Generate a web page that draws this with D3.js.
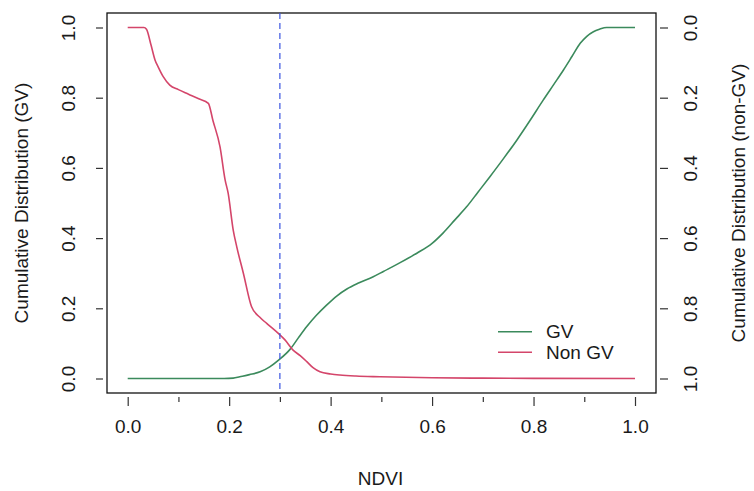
<!DOCTYPE html>
<html>
<head>
<meta charset="utf-8">
<script src="https://cdn.jsdelivr.net/npm/d3@7"></script>
<style>
  html, body { margin: 0; padding: 0; background: #fff; }
  svg { display: block; font-family: "Liberation Sans", Arial, sans-serif; }
</style>
</head>
<body>
<svg id="chart" width="754" height="491"></svg>
<script>
// ---- data ----
const xTicks = [0, 0.2, 0.4, 0.6, 0.8, 1.0];
const xMinorTicks = [0.1, 0.3, 0.5, 0.7, 0.9];
const yTicks = [0, 0.2, 0.4, 0.6, 0.8, 1.0];
const cutoff = 0.3;

const ndviGV = [0, 0.19, 0.208, 0.221, 0.24, 0.261, 0.28, 0.298, 0.32, 0.336, 0.353, 0.372, 0.392, 0.412, 0.432, 0.455, 0.484, 0.504, 0.537, 0.570, 0.60, 0.622, 0.645, 0.668, 0.690, 0.714, 0.74, 0.767, 0.793, 0.819, 0.84, 0.859, 0.876, 0.892, 0.905, 0.918, 0.93, 0.944, 1.0];
const gvCDF  = [0, 0, 0.001, 0.005, 0.011, 0.019, 0.033, 0.053, 0.083, 0.115, 0.148, 0.18, 0.209, 0.235, 0.255, 0.272, 0.290, 0.305, 0.330, 0.357, 0.385, 0.415, 0.452, 0.489, 0.530, 0.575, 0.625, 0.679, 0.735, 0.793, 0.838, 0.879, 0.918, 0.955, 0.975, 0.988, 0.995, 1.0, 1.0];

const ndviNonGV = [0, 0.032, 0.037, 0.046, 0.054, 0.060, 0.070, 0.083, 0.10, 0.12, 0.14, 0.159, 0.168, 0.182, 0.192, 0.198, 0.208, 0.215, 0.228, 0.244, 0.26, 0.274, 0.298, 0.31, 0.326, 0.34, 0.353, 0.366, 0.379, 0.40, 0.418, 0.45, 0.497, 0.6, 0.7, 0.8, 1.0];
const nonGVCDF  = [0, 0, 0.005, 0.05, 0.093, 0.112, 0.14, 0.164, 0.177, 0.19, 0.203, 0.216, 0.265, 0.34, 0.434, 0.472, 0.577, 0.625, 0.70, 0.795, 0.825, 0.843, 0.873, 0.89, 0.919, 0.935, 0.952, 0.97, 0.981, 0.987, 0.99, 0.993, 0.995, 0.998, 0.999, 0.9995, 1.0];

const legendLabels = ["GV", "Non GV"];
const colors = ["#3b8a5c", "#d4456a"];

// ---- layout ----
const svg = d3.select("#chart");
const box = { left: 107, right: 656, top: 13, bottom: 393 };
const x = d3.scaleLinear().domain([0, 1]).range([127.7, 635]);
const yL = d3.scaleLinear().domain([0, 1]).range([378.5, 27.5]);
const yR = d3.scaleLinear().domain([0, 1]).range([27.5, 378.5]);
const fontSize = 19;
const textCol = "#1a1a1a";

// plot box
svg.append("rect")
  .attr("x", box.left).attr("y", box.top)
  .attr("width", box.right - box.left).attr("height", box.bottom - box.top)
  .attr("fill", "none").attr("stroke", "#111").attr("stroke-width", 1.3);

// x axis major
const gx = svg.append("g").attr("transform", `translate(0,${box.bottom + 4})`)
  .call(d3.axisBottom(x).tickValues(xTicks).tickFormat(d3.format(".1f")).tickSize(9).tickPadding(14));
gx.select(".domain").remove();
// x axis minor
const gxm = svg.append("g").attr("transform", `translate(0,${box.bottom + 4})`)
  .call(d3.axisBottom(x).tickValues(xMinorTicks).tickFormat("").tickSize(5));
gxm.select(".domain").remove();

// left axis
const gy = svg.append("g").attr("transform", `translate(${box.left - 4},0)`)
  .call(d3.axisLeft(yL).tickValues(yTicks).tickFormat(d3.format(".1f")).tickSize(7).tickPadding(12));
gy.select(".domain").remove();

// right axis
const gr = svg.append("g").attr("transform", `translate(${box.right + 4},0)`)
  .call(d3.axisRight(yR).tickValues(yTicks).tickFormat(d3.format(".1f")).tickSize(8).tickPadding(12));
gr.select(".domain").remove();

svg.selectAll(".tick line").attr("stroke", "#333").attr("stroke-width", 1.2);
svg.selectAll(".tick text").attr("font-size", fontSize).attr("fill", textCol)
  .attr("font-family", "'Liberation Sans', Arial, sans-serif");

// rotate y tick labels (R style, las=0)
gy.selectAll(".tick text").each(function(d) {
  const t = d3.select(this);
  t.attr("x", null).attr("dy", null)
   .attr("text-anchor", "middle")
   .attr("dominant-baseline", "central")
   .attr("transform", `translate(-35,0) rotate(-90)`);
});
gr.selectAll(".tick text").each(function(d) {
  const t = d3.select(this);
  t.attr("x", null).attr("dy", null)
   .attr("text-anchor", "middle")
   .attr("dominant-baseline", "central")
   .attr("transform", `translate(30,0) rotate(-90)`);
});

// axis titles
svg.append("text").attr("x", 380.5).attr("y", 478).attr("text-anchor", "middle")
  .attr("dominant-baseline", "central").attr("font-size", fontSize).attr("fill", textCol).text("NDVI");
svg.append("text").attr("transform", `translate(21,203) rotate(-90)`).attr("text-anchor", "middle")
  .attr("dominant-baseline", "central").attr("font-size", fontSize).attr("fill", textCol)
  .text("Cumulative Distribution (GV)");
svg.append("text").attr("transform", `translate(738,203) rotate(-90)`).attr("text-anchor", "middle")
  .attr("dominant-baseline", "central").attr("font-size", fontSize).attr("fill", textCol)
  .text("Cumulative Distribution (non-GV)");

// lines
const lineGV = d3.line().x(d => x(d[0])).y(d => yL(d[1])).curve(d3.curveMonotoneX);
const lineNon = d3.line().x(d => x(d[0])).y(d => yR(d[1])).curve(d3.curveMonotoneX);

svg.append("path").datum(d3.zip(ndviGV, gvCDF))
  .attr("d", lineGV).attr("fill", "none").attr("stroke", colors[0]).attr("stroke-width", 1.6);
svg.append("path").datum(d3.zip(ndviNonGV, nonGVCDF))
  .attr("d", lineNon).attr("fill", "none").attr("stroke", colors[1]).attr("stroke-width", 1.6);

// cutoff line
svg.append("line").attr("x1", x(cutoff)).attr("x2", x(cutoff))
  .attr("y1", box.top).attr("y2", box.bottom)
  .attr("stroke", "#3a55e0").attr("stroke-width", 1.2).attr("stroke-dasharray", "6,4");

// legend
const lg = svg.append("g");
legendLabels.forEach((lab, i) => {
  const yy = 331.7 + i * 20.5;
  lg.append("line").attr("x1", 498).attr("x2", 532).attr("y1", yy).attr("y2", yy)
    .attr("stroke", colors[i]).attr("stroke-width", 1.6);
  lg.append("text").attr("x", 546).attr("y", yy).attr("dominant-baseline", "central")
    .attr("font-size", fontSize).attr("fill", textCol).text(lab);
});
</script>
</body>
</html>
